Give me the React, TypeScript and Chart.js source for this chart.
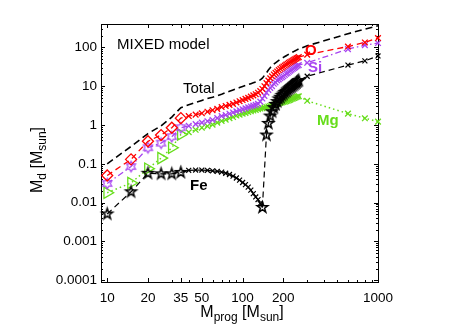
import React, { useEffect, useRef } from "react";
import { Chart, registerables } from "chart.js";
Chart.register(...registerables);

// ---------- data ----------
const massLow = [10, 15, 20, 25, 30, 35];
const massCC = [40, 45, 50, 55, 60, 65, 70, 75, 80, 85, 90, 95, 100, 105, 110, 115, 120, 125, 130, 135];
const massPISN = [140, 145, 150, 155, 160, 165, 170, 175, 180, 185, 190, 195, 200, 205, 210, 215, 220, 225, 230, 235, 240, 245, 250, 255, 260];
const massHigh = [300, 600, 800, 1000];

const totalLow = [0.1, 0.28, 0.6, 0.95, 1.6, 2.8];
const totalCC = [3.3, 3.8, 4.3, 4.8, 5.2, 5.7, 6.2, 6.8, 7.4, 8.0, 8.6, 9.2, 9.8, 10.4, 11, 11.6, 12.2, 12.8, 13.5, 14.5];
const totalPISN = [16, 19, 22, 26, 30, 34, 37, 40, 43, 46, 49, 52, 55, 58, 61, 64, 67, 70, 73, 76, 79, 82, 85, 88, 91];
const totalHigh = [110, 225, 295, 360];

const oxygenLow = [0.05, 0.13, 0.38, 0.55, 0.85, 1.5];
const oxygenCC = [1.7, 1.85, 2.0, 2.2, 2.4, 2.6, 2.9, 3.1, 3.3, 3.5, 3.8, 4.1, 4.4, 4.7, 5.0, 5.4, 5.8, 6.2, 6.8, 7.5];
const oxygenPISN = [8.5, 10, 12, 14, 16, 18, 20, 22, 24, 26, 28, 30, 32, 34, 36, 38, 40, 42, 44, 46, 48, 50, 52, 54, 56];
const oxygenHigh = [65, 105, 134, 174];

const siliconLow = [0.031, 0.085, 0.26, 0.34, 0.5, 0.85];
const siliconCC = [0.95, 1.05, 1.15, 1.25, 1.35, 1.5, 1.7, 1.8, 1.95, 2.1, 2.25, 2.4, 2.55, 2.7, 2.85, 3.0, 3.15, 3.3, 3.5, 4.0];
const siliconPISN = [4.8, 5.6, 6.8, 8, 9, 10, 11.5, 12.5, 14, 15, 16, 17, 18, 19.5, 21, 22, 23.5, 25, 26.5, 28, 29.5, 31, 32.5, 34, 35];
const siliconHigh = [40, 90, 114, 129];

const magnesiumLow = [0.018, 0.032, 0.075, 0.14, 0.26, 0.57];
const magnesiumCC = [0.65, 0.75, 0.85, 0.93, 1.02, 1.15, 1.27, 1.37, 1.5, 1.6, 1.75, 1.85, 1.95, 2.05, 2.15, 2.25, 2.35, 2.45, 2.55, 2.65];
const magnesiumPISN = [2.7, 2.8, 2.9, 3.0, 3.1, 3.2, 3.3, 3.4, 3.5, 3.6, 3.7, 3.8, 3.9, 4.0, 4.1, 4.2, 4.35, 4.5, 4.65, 4.8, 4.95, 5.1, 5.25, 5.4, 5.5];
const magnesiumHigh = [4.2, 1.96, 1.49, 1.22];

const ironLow = [0.0051, 0.019, 0.057, 0.055, 0.055, 0.06];
const ironCC = [0.068, 0.069, 0.069, 0.068, 0.066, 0.064, 0.061, 0.057, 0.053, 0.048, 0.043, 0.038, 0.033, 0.029, 0.025, 0.021, 0.017, 0.014, 0.012, 0.0095];
const ironPISN = [0.0075, null, 0.55, 1.1, 1.7, 2.2, 2.8, 3.4, 4.0, 4.7, 5.2, 5.8, 6.3, 6.9, 7.4, 8.0, 8.6, 9.2, 9.8, 10.4, 11, 11.7, 12.4, 13.2, 14];
const ironHigh = [18, 35, 45, 60];

const xTickValues = [10, 20, 35, 50, 100, 200, 1000];
const xTickLabels = ["10", "20", "35", "50", "100", "200", "1000"];
const yTickValues = [0.0001, 0.001, 0.01, 0.1, 1, 10, 100];
const yTickLabels = ["0.0001", "0.001", "0.01", "0.1", "1", "10", "100"];

// ---------- styles ----------
const FONT = "'Liberation Sans', Arial, Helvetica, sans-serif";
const RED = "#ff0000";
const PURPLE = "#a845f0";
const GREEN = "#66dd1a";
const BLACK = "#000000";

function series(low: number[], cc: number[], pisn: (number | null)[], high: number[]) {
  const xs = [...massLow, ...massCC, ...massPISN, ...massHigh];
  const ys = [...low, ...cc, ...pisn, ...high];
  return xs.map((x, i) => ({ x, y: ys[i] }));
}

function makeStar(n: number, outer: number, innerRatio: number, color: string, lw: number) {
  const size = Math.ceil(2 * outer + 2 * lw + 2);
  const c = document.createElement("canvas");
  c.width = size;
  c.height = size;
  const g = c.getContext("2d")!;
  g.translate(size / 2, size / 2);
  g.beginPath();
  for (let i = 0; i < 2 * n; i++) {
    const r = i % 2 === 0 ? outer : outer * innerRatio;
    const a = -Math.PI / 2 + (i * Math.PI) / n;
    g.lineTo(r * Math.cos(a), r * Math.sin(a));
  }
  g.closePath();
  g.strokeStyle = color;
  g.lineWidth = lw;
  g.lineJoin = "miter";
  g.stroke();
  return c;
}

type Part = { t: string; sub?: boolean };
function richWidth(ctx: CanvasRenderingContext2D, parts: Part[], main: number, sub: number) {
  let w = 0;
  for (const p of parts) {
    ctx.font = `${p.sub ? sub : main}px ${FONT}`;
    w += ctx.measureText(p.t).width;
  }
  return w;
}
function drawRich(ctx: CanvasRenderingContext2D, parts: Part[], cx: number, baseline: number, main: number, sub: number, subShift: number) {
  const w = richWidth(ctx, parts, main, sub);
  let x = cx - w / 2;
  ctx.textAlign = "left";
  ctx.textBaseline = "alphabetic";
  for (const p of parts) {
    ctx.font = `${p.sub ? sub : main}px ${FONT}`;
    ctx.fillText(p.t, x, baseline + (p.sub ? subShift : 0));
    x += ctx.measureText(p.t).width;
  }
}

const framePlugin = {
  id: "frame",
  beforeDatasetsDraw(chart: any) {
    const { ctx, chartArea: a, scales } = chart;
    const xs = scales.x;
    const ys = scales.y;
    ctx.save();
    ctx.strokeStyle = "#000";
    ctx.lineWidth = 1;
    ctx.strokeRect(Math.round(a.left) + 0.5, Math.round(a.top) + 0.5, Math.round(a.right - a.left), Math.round(a.bottom - a.top));
    ctx.beginPath();
    for (let d = 1; d <= 3; d++) {
      for (let m = 1; m <= 9; m++) {
        const v = m * Math.pow(10, d);
        if (v < 9 || v > 1000) continue;
        const px = Math.round(xs.getPixelForValue(v)) + 0.5;
        ctx.moveTo(px, a.bottom);
        ctx.lineTo(px, a.bottom - 2);
        ctx.moveTo(px, a.top);
        ctx.lineTo(px, a.top + 2);
      }
    }
    for (const v of xTickValues) {
      const px = Math.round(xs.getPixelForValue(v)) + 0.5;
      ctx.moveTo(px, a.bottom);
      ctx.lineTo(px, a.bottom - 4);
      ctx.moveTo(px, a.top);
      ctx.lineTo(px, a.top + 4);
    }
    for (let d = -5; d <= 2; d++) {
      for (let m = 1; m <= 9; m++) {
        const v = m * Math.pow(10, d);
        if (v < 9e-5 || v > 400) continue;
        const py = Math.round(ys.getPixelForValue(v)) + 0.5;
        const len = m === 1 ? 4 : 2;
        ctx.moveTo(a.left, py);
        ctx.lineTo(a.left + len, py);
        ctx.moveTo(a.right, py);
        ctx.lineTo(a.right - len, py);
      }
    }
    ctx.stroke();
    ctx.restore();
  },
  afterDraw(chart: any) {
    const { ctx } = chart;
    ctx.save();
    ctx.fillStyle = "#000";
    drawRich(ctx, [{ t: "M" }, { t: "prog", sub: true }, { t: " [M" }, { t: "sun", sub: true }, { t: "]" }], 242, 317, 16, 12, 4);
    ctx.save();
    ctx.translate(42, 160);
    ctx.rotate(-Math.PI / 2);
    drawRich(ctx, [{ t: "M" }, { t: "d", sub: true }, { t: " [M" }, { t: "sun", sub: true }, { t: "]" }], 0, 0, 16, 12, 4);
    ctx.restore();
    ctx.textAlign = "left";
    ctx.textBaseline = "alphabetic";
    ctx.font = `15px ${FONT}`;
    ctx.fillText("MIXED model", 117, 49);
    ctx.fillText("Total", 183, 93);
    ctx.font = `bold 15px ${FONT}`;
    ctx.fillText("Fe", 190, 190);
    ctx.fillStyle = RED;
    ctx.fillText("O", 305, 55);
    ctx.fillStyle = PURPLE;
    ctx.fillText("Si", 308, 72);
    ctx.fillStyle = GREEN;
    ctx.fillText("Mg", 317, 125);
    ctx.restore();
  },
};

export default function App() {
  const ref = useRef<HTMLCanvasElement | null>(null);
  useEffect(() => {
    if (!ref.current) return;
    const pent = makeStar(5, 5.6, 0.4, BLACK, 1.5);
    const hexa = makeStar(6, 5.2, 0.58, PURPLE, 1.2);
    const isLow = (c: any) => c.raw && c.raw.x <= 35;
    const ironStar = (c: any) => c.raw && (c.raw.x <= 35 || (c.raw.x >= 140 && c.raw.x <= 260));

    const chart = new Chart(ref.current, {
      type: "line",
      data: {
        datasets: [
          {
            label: "Total",
            data: series(totalLow, totalCC, totalPISN, totalHigh),
            borderColor: BLACK,
            borderWidth: 1.6,
            borderDash: [7, 4],
            pointRadius: 0,
            fill: false,
            tension: 0,
          },
          {
            label: "Fe",
            data: series(ironLow, ironCC, ironPISN, ironHigh),
            borderColor: BLACK,
            borderWidth: 1.2,
            borderDash: [],
            spanGaps: true,
            segment: {
              borderDash: (c: any) => (c.p0.parsed.x < 35 || c.p0.parsed.x >= 140 ? [6, 4] : undefined),
            },
            pointStyle: (c: any) => (ironStar(c) ? pent : "crossRot"),
            pointRadius: (c: any) => (ironStar(c) ? 6 : 3.5),
            pointBorderColor: BLACK,
            pointBackgroundColor: "rgba(0,0,0,0)",
            pointBorderWidth: 1.2,
            fill: false,
          },
          {
            label: "O",
            data: series(oxygenLow, oxygenCC, oxygenPISN, oxygenHigh),
            borderColor: RED,
            borderWidth: 1.3,
            borderDash: [6, 4],
            pointStyle: (c: any) => (isLow(c) ? "rectRot" : "crossRot"),
            pointRadius: (c: any) => (isLow(c) ? 5.5 : 4),
            pointBorderColor: RED,
            pointBackgroundColor: "rgba(0,0,0,0)",
            pointBorderWidth: 1.3,
            fill: false,
          },
          {
            label: "Si",
            data: series(siliconLow, siliconCC, siliconPISN, siliconHigh),
            borderColor: PURPLE,
            borderWidth: 1.3,
            borderDash: [6, 3, 1.5, 3],
            pointStyle: (c: any) => (isLow(c) ? hexa : "crossRot"),
            pointRadius: (c: any) => (isLow(c) ? 5.5 : 4),
            pointBorderColor: PURPLE,
            pointBackgroundColor: "rgba(0,0,0,0)",
            pointBorderWidth: 1.3,
            fill: false,
          },
          {
            label: "Mg",
            data: series(magnesiumLow, magnesiumCC, magnesiumPISN, magnesiumHigh),
            borderColor: GREEN,
            borderWidth: 1.5,
            borderDash: [1.5, 3],
            pointStyle: (c: any) => (isLow(c) ? "triangle" : "crossRot"),
            pointRotation: (c: any) => (isLow(c) ? 90 : 0),
            pointRadius: (c: any) => (isLow(c) ? 6.5 : 4),
            pointBorderColor: GREEN,
            pointBackgroundColor: "rgba(0,0,0,0)",
            pointBorderWidth: 1.3,
            fill: false,
          },
        ] as any,
      },
      options: {
        animation: false,
        responsive: false,
        devicePixelRatio: 1,
        layout: { padding: { left: 0, right: 85, top: 24, bottom: 0 } },
        datasets: { line: { clip: false } as any },
        plugins: { legend: { display: false }, tooltip: { enabled: false } },
        scales: {
          x: {
            type: "logarithmic",
            min: 9,
            max: 1000,
            afterBuildTicks: (s: any) => {
              s.ticks = xTickValues.map((v) => ({ value: v }));
            },
            afterFit: (s: any) => {
              s.height = 45;
            },
            grid: { display: false, drawTicks: false },
            border: { display: false },
            ticks: {
              autoSkip: false,
              maxRotation: 0,
              padding: 8,
              color: "#000",
              font: { family: FONT, size: 13.5 },
              callback: (_v: any, i: number) => xTickLabels[i],
            },
          },
          y: {
            type: "logarithmic",
            min: 9e-5,
            max: 400,
            afterBuildTicks: (s: any) => {
              s.ticks = yTickValues.map((v) => ({ value: v }));
            },
            afterFit: (s: any) => {
              s.width = 101;
            },
            grid: { display: false, drawTicks: false },
            border: { display: false },
            ticks: {
              autoSkip: false,
              padding: 4,
              color: "#000",
              font: { family: FONT, size: 13.5 },
              callback: (_v: any, i: number) => yTickLabels[i],
            },
          },
        },
      } as any,
      plugins: [framePlugin],
    });
    return () => chart.destroy();
  }, []);

  return (
    <div style={{ position: "absolute", left: 0, top: 0, width: 463, height: 327, background: "#fff" }}>
      <canvas ref={ref} width={463} height={327} style={{ display: "block" }} />
    </div>
  );
}
